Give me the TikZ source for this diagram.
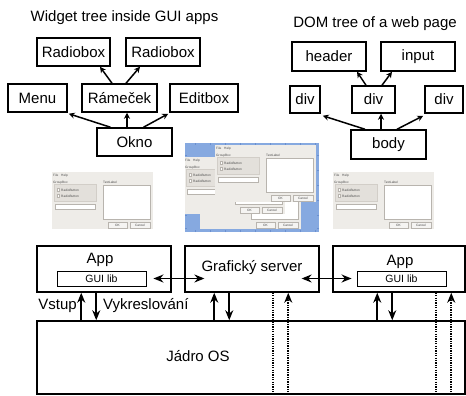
\documentclass[tikz,border=0pt]{standalone}
\usepackage{fontspec}
\setmainfont{Liberation Sans}
\usetikzlibrary{arrows.meta}
\definecolor{dlgbg}{HTML}{EEECE8}
\definecolor{grpbg}{HTML}{E3E0DB}
\definecolor{grpln}{HTML}{D2CEC8}
\definecolor{btnbg}{HTML}{F5F4F2}
\definecolor{btnln}{HTML}{B8B4AE}
\definecolor{deskblue}{HTML}{86A9E0}
\definecolor{tickblue}{HTML}{6A8FCF}
% #3 = 1: draw upper-left texts; #4 = 1: draw TextLabel text
\newcommand\dlgwin[4]{%
\begin{scope}[shift={(#1,#2)}]
 \fill[dlgbg] (0,0) rectangle (101,57);
 \ifnum#3=1
 \node[tinyt, anchor=base west] (mf) at (1,4) {File};
 \node[tinyt, anchor=base west] (mh) at (9,4) {Help};
 \node[tinyt, anchor=base west] (gb) at (1,11) {GroupBox};
 \fi
 \filldraw[fill=grpbg, draw=grpln, line width=0.3pt] (2,12.5) rectangle (44,29);
 \filldraw[fill=white, draw=btnln, line width=0.25pt] (5,16.5) rectangle (7.5,19);
 \filldraw[fill=white, draw=btnln, line width=0.25pt] (5,22.5) rectangle (7.5,25);
 \ifnum#3=1
 \node[tinyt, anchor=base west] (rb1) at (9,19.3) {RadioButton};
 \node[tinyt, anchor=base west] (rb2) at (9,25.3) {RadioButton};
 \fi
 \filldraw[fill=white, draw=btnln, line width=0.3pt] (3,32) rectangle (43,37);
 \ifnum#4=1
 \node[tinyt, anchor=base west] (tl) at (51,11) {TextLabel};
 \fi
 \filldraw[fill=white, draw=btnln, line width=0.3pt] (51,13.5) rectangle (98,47);
 \filldraw[fill=btnbg, draw=btnln, line width=0.3pt] (56,50) rectangle (75,56);
 \filldraw[fill=btnbg, draw=btnln, line width=0.3pt] (78,50) rectangle (98,56);
 \node[tinyt] (ok) at (65.5,53) {OK};
 \node[tinyt] (cn) at (88,53) {Cancel};
\end{scope}}
\begin{document}
\begin{tikzpicture}[x=1pt,y=-1pt,
  tinyt/.style={inner sep=0pt, font=\fontsize{3.2}{3.5}\selectfont, text=black!70},
  tbox/.style={draw, line width=1.5pt, inner sep=0pt, font=\fontsize{15}{18}\selectfont},
  lbl/.style={inner sep=0pt, font=\fontsize{15}{18}\selectfont},
  smallbox/.style={draw, line width=0.9pt, inner sep=0pt, font=\fontsize{10.5}{12}\selectfont},
  tarr/.style={line width=1.5pt, -{Stealth[length=6pt,width=6pt]}},
  barr/.style={line width=1.6pt, -{Stealth[length=10pt,width=8pt]}},
  dbl/.style={line width=1.5pt, {Stealth[length=10pt,width=8pt]}-{Stealth[length=10pt,width=8pt]}},
  dotl/.style={line width=1.6pt, dash pattern=on 1.3pt off 1.1pt}
]
\useasboundingbox (0,0) rectangle (466,396);

% ---------- Widget tree ----------
\node[lbl, anchor=base] (wt) at (124.5,21.5) {Widget tree inside GUI apps};
\node[tbox, minimum width=73pt, minimum height=28pt] (r1) at (73.5,52) {Radiobox};
\node[tbox, minimum width=74pt, minimum height=28pt] (r2) at (163,52) {Radiobox};
\node[tbox, minimum width=59pt, minimum height=28pt] (menu) at (37.5,98) {Menu};
\node[tbox, minimum width=75pt, minimum height=28pt] (ram) at (119.5,98) {Rámeček};
\node[tbox, minimum width=68pt, minimum height=28pt] (edit) at (204,98) {Editbox};
\node[tbox, minimum width=75pt, minimum height=28pt] (okno) at (134.5,142) {Okno};
\draw[tarr] ([xshift=-24pt]okno.north) -- ([xshift=1pt,yshift=-1pt]menu.south east);
\draw[tarr] ([xshift=-7.5pt]okno.north) -- ([xshift=7.5pt]ram.south);
\draw[tarr] ([xshift=9pt]okno.north) -- ([xshift=-1pt,yshift=-1pt]edit.south west);
\draw[tarr] ([xshift=-7.5pt]ram.north) -- ([xshift=26.5pt]r1.south);
\draw[tarr] ([xshift=6.5pt]ram.north) -- ([xshift=-23pt]r2.south);

% ---------- DOM tree ----------
\node[lbl, anchor=base] (dt) at (375,28) {DOM tree of a web page};
\node[tbox, minimum width=74pt, minimum height=29pt] (hdr) at (329,56.5) {header};
\node[tbox, minimum width=74pt, minimum height=29pt] (inp) at (418,56.5) {input};
\node[tbox, minimum width=30pt, minimum height=27pt] (d1) at (305,99.5) {div};
\node[tbox, minimum width=43pt, minimum height=27pt] (d2) at (373.5,99.5) {div};
\node[tbox, minimum width=38pt, minimum height=27pt] (d3) at (444,99.5) {div};
\node[tbox, minimum width=75pt, minimum height=29pt] (body) at (388.5,144.5) {body};
\draw[tarr] ([xshift=-23.5pt]body.north) -- ([xshift=2pt,yshift=-2pt]d1.south east);
\draw[tarr] ([xshift=-7.5pt]body.north) -- ([xshift=7.5pt]d2.south);
\draw[tarr] ([xshift=8.5pt]body.north) -- ([xshift=-1pt,yshift=-2pt]d3.south west);
\draw[tarr] ([xshift=-7.5pt]d2.north) -- ([xshift=28pt]hdr.south);
\draw[tarr] ([xshift=8.5pt]d2.north) -- ([xshift=-26pt]inp.south);

% ---------- Screenshots ----------
\dlgwin{52}{172}{1}{1}
\dlgwin{333}{172}{1}{1}
\fill[deskblue] (185,143) rectangle (319,232);
\foreach \tx in {195,210,225,240,255,270,285,300,315}{
  \draw[tickblue, line width=0.5pt] (\tx,143) -- (\tx,145);
  \draw[tickblue, line width=0.5pt] (\tx,232) -- (\tx,230);
}
\foreach \ty in {155,170,185,200,215,228}{
  \draw[tickblue, line width=0.5pt] (185,\ty) -- (187,\ty);
  \draw[tickblue, line width=0.5pt] (319,\ty) -- (317,\ty);
}
\begin{scope}
\clip (185,143) rectangle (319,232);
\dlgwin{200}{172}{0}{0}
\dlgwin{184}{157}{1}{0}
\dlgwin{215}{145}{1}{1}
\end{scope}

% ---------- System ----------
\node[tbox, minimum width=134pt, minimum height=46pt] (appL) at (104,269) {};
\node[lbl, anchor=base] (appLt) at (100,263) {App};
\node[smallbox, minimum width=89pt, minimum height=15pt] (guiL) at (101.5,278.5) {GUI lib};
\node[tbox, minimum width=134pt, minimum height=46pt] (srv) at (252,269) {};
\node[lbl] (srvt) at (252,268) {Grafický server};
\node[tbox, minimum width=132pt, minimum height=46pt] (appR) at (399,269) {};
\node[lbl, anchor=base] (appRt) at (400,265) {App};
\node[smallbox, minimum width=89pt, minimum height=15pt] (guiR) at (401.5,278.5) {GUI lib};
\node[tbox, minimum width=428pt, minimum height=73pt] (os) at (251,357.5) {};
\node[lbl] (ost) at (198,356) {Jádro OS};

\draw[dbl] ([xshift=7pt]guiL.east) -- ([xshift=3pt]srvt.west |- guiL.east);
\draw[dbl] ([xshift=-1pt]srvt.east |- guiR.west) -- ([xshift=-5pt]guiR.west);

\draw[barr] ([xshift=45pt]appL.south west |- os.north) -- ([xshift=45pt]appL.south west);
\draw[barr] ([xshift=60pt]appL.south west) -- ([xshift=60pt]appL.south west |- os.north);
\draw[barr] ([xshift=30pt]srv.south west |- os.north) -- ([xshift=30pt]srv.south west);
\draw[barr] ([xshift=45pt]srv.south west) -- ([xshift=45pt]srv.south west |- os.north);
\draw[barr] ([xshift=45pt]appR.south west |- os.north) -- ([xshift=45pt]appR.south west);
\draw[barr] ([xshift=60pt]appR.south west) -- ([xshift=60pt]appR.south west |- os.north);

\coordinate (s1) at ([xshift=89pt]srv.south west);
\coordinate (s2) at ([xshift=104pt]srv.south west);
\coordinate (a1) at ([xshift=104pt]appR.south west);
\coordinate (a2) at ([xshift=119pt]appR.south west);
\draw[dotl] (s1) -- (s1 |- os.south);
\draw[dotl, -{Stealth[length=10pt,width=8pt]}] (s2 |- os.south) -- (s2);
\draw[dotl] (a1) -- (a1 |- os.south);
\draw[dotl, -{Stealth[length=10pt,width=8pt]}] (a2 |- os.south) -- (a2);

\node[lbl, anchor=base east] (vst) at (77,309) {Vstup};
\node[lbl, anchor=base west] (vyk) at (103,309) {Vykreslování};
\end{tikzpicture}
\end{document}
